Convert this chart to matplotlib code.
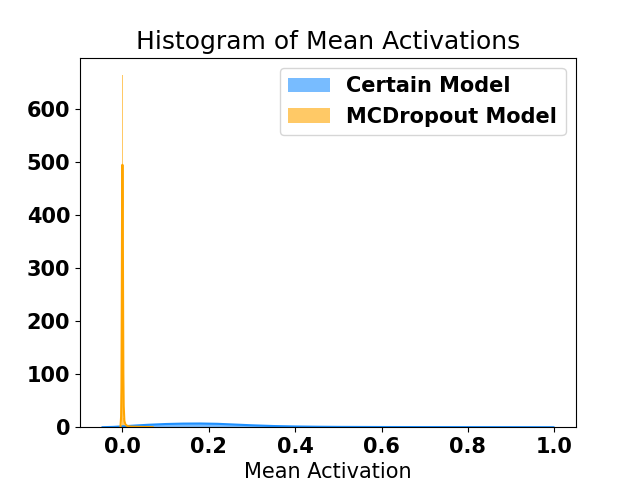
import matplotlib
matplotlib.use("Agg")
import matplotlib.pyplot as plt

# Certain model: histogram (density) and KDE
certain_bin_start = 0.0
certain_bin_width = 0.0475
certain_hist = [2.2, 5.0, 6.4, 7.0, 6.0, 4.0, 2.3, 1.4, 0.9, 0.6,
                0.45, 0.35, 0.3, 0.25, 0.2, 0.18, 0.15, 0.12, 0.1, 0.08]
certain_kde_x = [-0.046, -0.02, 0.0, 0.03, 0.06, 0.1, 0.14, 0.18, 0.22, 0.26,
                 0.3, 0.35, 0.4, 0.45, 0.5, 0.6, 0.7, 0.8, 0.9, 0.95, 0.998]
certain_kde_y = [0.05, 0.6, 1.6, 3.2, 4.6, 6.0, 6.8, 7.0, 6.4, 5.0,
                 3.6, 2.2, 1.4, 0.9, 0.6, 0.35, 0.25, 0.18, 0.12, 0.08, 0.02]

# MCDropout model: very narrow spike at zero
mc_bin_start = 0.0
mc_bin_width = 0.0014
mc_hist = [664, 18, 6, 3.5, 2.5, 2, 1.6, 1.4, 1.2, 1.1,
           1.0, 0.9, 0.8, 0.8, 0.7, 0.7, 0.6, 0.6, 0.6, 0.5,
           0.5, 0.5, 0.5, 0.4, 0.4, 0.4, 0.4, 0.4, 0.3, 0.3,
           0.3, 0.3, 0.3, 0.3, 0.3, 0.3, 0.2, 0.2, 0.2, 0.2,
           0.2, 0.2, 0.2, 0.2, 0.2, 0.2, 0.1, 0.1, 0.1, 0.1]
mc_kde_x = [-0.0045, -0.003, -0.0022, -0.0015, -0.0008, 0.0, 0.0008, 0.0015,
            0.0022, 0.003, 0.0045, 0.007, 0.012, 0.02, 0.04, 0.07]
mc_kde_y = [0, 20, 75, 225, 410, 495, 420, 250,
            100, 40, 12, 5, 2, 1, 0.6, 0.1]

fig, ax = plt.subplots(figsize=(6.4, 4.8))

certain_edges = [certain_bin_start + i * certain_bin_width for i in range(len(certain_hist))]
ax.bar(certain_edges, certain_hist, width=certain_bin_width, align="edge",
       color="dodgerblue", alpha=0.6, label="Certain Model")
ax.plot(certain_kde_x, certain_kde_y, color="dodgerblue", linewidth=1.5)

mc_edges = [mc_bin_start + i * mc_bin_width for i in range(len(mc_hist))]
ax.bar(mc_edges, mc_hist, width=mc_bin_width, align="edge",
       color="orange", alpha=0.6, label="MCDropout Model")
ax.plot(mc_kde_x, mc_kde_y, color="orange", linewidth=1.5)

ax.set_title("Histogram of Mean Activations", fontsize=18)
ax.set_xlabel("Mean Activation", fontsize=15)
for lbl in ax.get_xticklabels() + ax.get_yticklabels():
    lbl.set_fontweight("bold")
    lbl.set_fontsize(15)
ax.legend(prop={"weight": "bold", "size": 15})

fig.savefig("out.png", dpi=100)
